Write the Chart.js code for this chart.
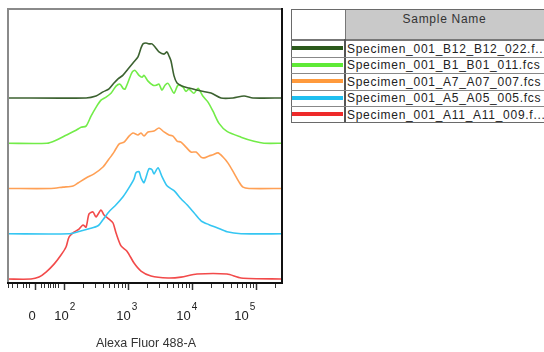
<!DOCTYPE html>
<html>
<head>
<meta charset="utf-8">
<script src="https://cdn.jsdelivr.net/npm/chart.js@4.4.1/dist/chart.umd.min.js"></script>
<style>
  html, body { margin: 0; padding: 0; background: #fff; }
  body { width: 544px; height: 352px; overflow: hidden; position: relative; font-family: "Liberation Sans", Arial, sans-serif; }
  #wrap { position: absolute; left: 0; top: 0; width: 544px; height: 352px; }
  .cell { position: absolute; box-sizing: border-box; }
  .txt { font-size: 12px; letter-spacing: 0.72px; color: #222; white-space: nowrap; overflow: hidden; line-height: 16px; }
</style>
</head>
<body>
<div id="wrap"><canvas id="c" width="544" height="352"></canvas></div>
<div id="legend"></div>
<script>
// ---------- data (x in display decades: 2 = 10^2, 3 = 10^3 ...; y = % of plot height) ----------
const seriesNames = [
  "Specimen_001_B12_B12_022.f...",
  "Specimen_001_B1_B01_011.fcs",
  "Specimen_001_A7_A07_007.fcs",
  "Specimen_001_A5_A05_005.fcs",
  "Specimen_001_A11_A11_009.f..."
];
const seriesColors = ["#3c6230", "#72ec48", "#ffa055", "#35c6f2", "#f24a4a"];
const legendColors = ["#2c5a1c", "#5fea36", "#ff9a3c", "#1fbff0", "#ee2a2a"];

const darkGreenX = [1.11,2.344,2.5,2.609,2.703,2.781,2.844,2.922,3.0,3.078,3.156,3.203,3.234,3.281,3.328,3.375,3.422,3.484,3.563,3.609,3.641,3.672,3.719,3.766,3.844,3.953,4.141,4.297,4.453,4.641,4.813,4.953,5.43];
const darkGreenY = [0,0,0.7,2.2,3.3,5.4,6.9,8.3,10.5,12.7,14.9,18.1,19.6,19.9,19.6,19.6,18.5,16.7,15.9,16.7,15.2,13.4,8.0,5.4,4.3,3.6,2.5,1.8,0,0,0.7,0,0];

const greenX = [1.11,1.734,1.875,2.031,2.188,2.266,2.344,2.422,2.5,2.578,2.656,2.734,2.813,2.875,2.922,2.953,3.0,3.063,3.109,3.172,3.219,3.25,3.313,3.391,3.438,3.484,3.531,3.578,3.625,3.672,3.719,3.781,3.859,3.906,3.953,4.031,4.094,4.172,4.25,4.328,4.422,4.547,4.766,4.969,5.125,5.43];
const greenY = [0,0,1.1,2.9,4.7,5.8,6.2,9.8,13.0,15.6,16.7,18.1,20.7,21.4,19.9,19.6,22.1,25.7,26.4,24.6,23.9,24.6,22.5,21.0,21.0,21.4,19.2,21.0,21.7,19.9,18.1,21.0,20.3,18.8,19.6,18.1,19.9,17.0,14.9,11.6,7.2,4.3,2.2,0.7,0,0];

const orangeX = [1.11,1.797,1.984,2.141,2.219,2.344,2.469,2.609,2.703,2.781,2.859,2.938,3.016,3.078,3.156,3.203,3.25,3.313,3.406,3.484,3.563,3.641,3.703,3.766,3.828,3.906,3.984,4.063,4.141,4.188,4.266,4.328,4.406,4.484,4.563,4.656,4.734,4.797,4.891,5.43];
const orangeY = [0,0,0.5,0.9,2.0,3.8,5.3,7.8,10.7,13.2,16.1,16.8,19.0,20.1,19.4,20.1,19.0,20.5,20.8,21.9,20.5,19.4,19.0,17.2,16.8,15.0,13.2,13.2,11.4,11.1,11.8,12.2,12.9,11.4,9.2,5.6,2.4,0.5,0,0];

const blueX = [1.11,2.078,2.219,2.391,2.531,2.609,2.703,2.813,2.922,3.016,3.094,3.125,3.172,3.203,3.25,3.328,3.375,3.406,3.469,3.531,3.609,3.719,3.828,3.922,4.031,4.141,4.266,4.391,4.547,4.766,5.43];
const blueY = [0,0,0.7,1.8,2.9,5.1,8.0,10.5,13.4,16.7,19.9,22.1,22.5,20.3,18.5,23.6,23.2,21.7,23.9,20.7,17.4,15.6,12.7,10.5,7.6,4.7,3.3,2.2,0.7,0,0];

const redX = [1.11,1.484,1.609,1.719,1.844,1.953,2.031,2.078,2.156,2.234,2.297,2.344,2.391,2.453,2.5,2.578,2.625,2.703,2.766,2.813,2.891,2.984,3.094,3.203,3.359,3.625,3.828,4.078,4.547,4.766,5.43];
const redY = [0,0,0.7,2.5,5.4,8.7,11.6,15.2,17.0,18.1,19.6,18.8,23.6,24.3,22.5,25.0,23.2,21.7,20.3,16.7,12.0,10.1,5.8,2.9,1.1,0.4,0.7,1.8,1.8,0.4,0];

// tick values on the fluorescence axis
const majorTickValues = [0, 100, 1000, 10000, 100000];
const majorTickExponents = [null, 2, 3, 4, 5];
const minorTickValues = [-90,-70,-50,-30,-20,-10,10,20,30,40,50,60,70,
  200,300,400,500,600,700,800,900,2000,3000,4000,5000,6000,7000,8000,9000,
  20000,30000,40000,50000,60000,70000,80000,90000,200000];
const axisTitle = "Alexa Fluor 488-A";
const headerText = "Sample Name";

// ---------- helpers ----------
const seriesX = [darkGreenX, greenX, orangeX, blueX, redX];
const seriesY = [darkGreenY, greenY, orangeY, blueY, redY];
const offsetStep = 16.4, offsetBase = 1.8;
// biexponential-like display transform (linear-ish near 0, log above 100)
function toDisplay(v) {
  if (v >= 100) return Math.log10(v);
  const s = v < 0 ? -1 : 1;
  return 1.547 + s * 0.453 * Math.pow(Math.abs(v) / 100, 0.7);
}

const datasets = seriesNames.map((name, i) => {
  const off = offsetBase + offsetStep * (seriesNames.length - 1 - i);
  return {
    label: name,
    data: seriesX[i].map((x, k) => ({ x: x, y: off + seriesY[i][k] })),
    borderColor: seriesColors[i],
    backgroundColor: seriesColors[i],
    borderWidth: 1.6,
    pointRadius: 0,
    tension: 0.25,
    fill: false
  };
});

const framePlugin = {
  id: 'frame',
  afterDraw(chart) {
    const ctx = chart.ctx, a = chart.chartArea, xs = chart.scales.x;
    ctx.save();
    // frame: top/left gray, right/bottom black
    ctx.lineWidth = 2;
    ctx.strokeStyle = '#8a8a8a';
    ctx.beginPath();
    ctx.moveTo(a.left + 1, a.bottom); ctx.lineTo(a.left + 1, a.top + 1); ctx.lineTo(a.right, a.top + 1);
    ctx.stroke();
    ctx.strokeStyle = '#111';
    ctx.beginPath();
    ctx.moveTo(a.right - 1, a.top); ctx.lineTo(a.right - 1, a.bottom - 1); ctx.lineTo(a.left, a.bottom - 1);
    ctx.stroke();
    // ticks
    ctx.lineWidth = 1;
    ctx.strokeStyle = '#333';
    minorTickValues.forEach(v => {
      const px = Math.round(xs.getPixelForValue(toDisplay(v))) + 0.5;
      if (px < a.left || px > a.right) return;
      ctx.beginPath(); ctx.moveTo(px, a.bottom); ctx.lineTo(px, a.bottom + 4); ctx.stroke();
    });
    ctx.lineWidth = 1.5;
    majorTickValues.forEach(v => {
      const px = Math.round(xs.getPixelForValue(toDisplay(v))) + 0.5;
      ctx.beginPath(); ctx.moveTo(px, a.bottom); ctx.lineTo(px, a.bottom + 6); ctx.stroke();
    });
    // tick labels
    const nudges = [-3, -2.5, -4.5, -8.5, -14.5];
    ctx.fillStyle = '#222';
    ctx.textBaseline = 'alphabetic';
    majorTickValues.forEach((v, i) => {
      const px = xs.getPixelForValue(toDisplay(v)) + nudges[i];
      ctx.font = '13px "Liberation Sans", Arial, sans-serif';
      const base = majorTickExponents[i] === null ? '0' : '10';
      const bw = ctx.measureText(base).width;
      ctx.textAlign = 'left';
      ctx.fillText(base, px - bw / 2, a.bottom + 36);
      if (majorTickExponents[i] !== null) {
        ctx.font = '10px "Liberation Sans", Arial, sans-serif';
        ctx.fillText(String(majorTickExponents[i]), px + bw / 2 + 1, a.bottom + 26);
      }
    });
    // axis title
    ctx.font = '12.5px "Liberation Sans", Arial, sans-serif';
    ctx.textAlign = 'center';
    ctx.fillStyle = '#333';
    ctx.fillText(axisTitle, (a.left + a.right) / 2 + 1, a.bottom + 63);
    ctx.restore();
  }
};

new Chart(document.getElementById('c'), {
  type: 'line',
  data: { datasets },
  options: {
    responsive: false,
    animation: false,
    events: [],
    layout: { padding: { left: 7, top: 8, right: 261, bottom: 0 } },
    plugins: { legend: { display: false }, tooltip: { enabled: false }, title: { display: false } },
    scales: {
      x: {
        type: 'linear', min: 1.109, max: 5.422,
        grid: { display: false }, border: { display: false },
        ticks: { display: false },
        afterFit: s => { s.height = 68; }
      },
      y: { type: 'linear', min: 0, max: 100, display: false }
    }
  },
  plugins: [framePlugin]
});

// ---------- legend table (HTML) ----------
(function () {
  const lg = document.getElementById('legend');
  const L = 291, T = 9, colW = 53, headH = 30, rowH = 16.5;
  const add = (style, html) => {
    const d = document.createElement('div');
    d.className = 'cell';
    Object.assign(d.style, style);
    if (html !== undefined) d.textContent = html;
    lg.appendChild(d);
    return d;
  };
  const totalH = headH + rowH * seriesNames.length + 1;
  add({ left: L + 'px', top: T + 'px', width: '300px', height: totalH + 'px', border: '1px solid #6a6a6a', background: '#fff' });
  // header
  add({ left: (L + colW + 1) + 'px', top: (T + 1) + 'px', width: '210px', height: (headH - 1) + 'px', background: '#c9c9c9', borderLeft: '1px solid #777' });
  const ht = add({ left: (L + colW + 1) + 'px', top: (T + 2) + 'px', width: (544 - L - colW - 1) + 'px', height: '16px', textAlign: 'center' }, headerText);
  ht.classList.add('txt'); ht.style.color = '#333';
  add({ left: L + 'px', top: (T + headH) + 'px', width: '300px', height: '2px', background: '#777' });
  // column separator
  add({ left: (L + colW) + 'px', top: (T + headH) + 'px', width: '2px', height: (rowH * seriesNames.length) + 'px', background: '#555' });
  seriesNames.forEach((name, i) => {
    const top = T + headH + 1 + i * rowH;
    if (i > 0) add({ left: L + 'px', top: top + 'px', width: '300px', height: '1px', background: '#888' });
    add({ left: (L + 1) + 'px', top: (top + rowH / 2 - 2) + 'px', width: (colW - 2) + 'px', height: '4px', background: legendColors[i] });
    const t = add({ left: (L + colW + 3) + 'px', top: (top + 0.5) + 'px', width: (544 - L - colW - 3) + 'px', height: '16px' }, name);
    t.classList.add('txt');
  });
})();
</script>
</body>
</html>
